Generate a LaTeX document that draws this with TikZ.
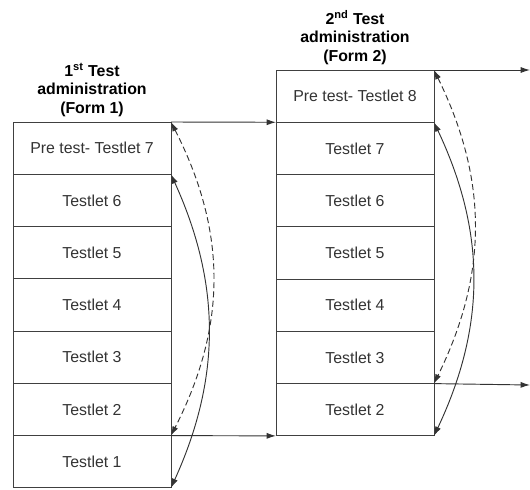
\documentclass[tikz,border=0pt]{standalone}
\usepackage{fontspec}
\setmainfont{Liberation Sans}
\usetikzlibrary{positioning, arrows.meta}

\begin{document}
\begin{tikzpicture}[x=0.75pt, y=-0.75pt,
        testlet/.style={draw=black!75, line width=0.75pt, minimum width=118.5pt, minimum height=39.2pt, inner sep=0pt, outer sep=0pt, text=black!80, font=\fontsize{11.9}{13.9}\selectfont},
        title/.style={align=center, inner sep=0pt, font=\bfseries\fontsize{11.9}{13.9}\selectfont},
        link/.style={draw=black!80, line width=0.7pt, -{Latex[length=7pt,width=4.5pt]}},
        swap/.style={draw=black!80, line width=0.7pt, {Latex[length=7pt,width=4.5pt]}-{Latex[length=7pt,width=4.5pt]}}]

        % fixing the size of the picture
        \useasboundingbox (0,0) rectangle (530,489);

        % first administration: the pre test on top, then testlets 6 down to 1
        \node[testlet, anchor=north west] (a7) at (13,122) {Pre test- Testlet 7};
        \foreach \i [remember=\i as \last (initially 7)] in {6,5,...,1}
                \node[testlet, below=0pt of a\last] (a\i) {Testlet \i};
        \node[title, above=4pt of a7] (ta) {1\textsuperscript{st} Test\\administration\\(Form 1)};

        % second administration: the pre test on top, then testlets 7 down to 2
        \node[testlet, anchor=north west] (b8) at (276,70) {Pre test- Testlet 8};
        \foreach \i [remember=\i as \last (initially 8)] in {7,6,...,2}
                \node[testlet, below=0pt of b\last] (b\i) {Testlet \i};
        \node[title, above=4pt of b8] (tb) {2\textsuperscript{nd} Test\\administration\\(Form 2)};

        % free ends of the outgoing arrows
        \coordinate (outtop) at (530,70);
        \coordinate (outmid) at (530,385);

        % straight links between the forms
        \draw[link] (a7.north east) -- (b7.north west);
        \draw[link] (a2.south east) -- (b2.south west);
        \draw[link] (b8.north east) -- (outtop);
        \draw[link] (b3.south east) -- (outmid);

        % curved links along each form
        \draw[swap, dash pattern=on 4.5pt off 2.5pt] (a7.north east) .. controls +(56,110) and +(56,-110) .. (a2.south east);
        \draw[swap] (a6.north east) .. controls +(50,110) and +(50,-110) .. (a1.south east);
        \draw[swap, dash pattern=on 4.5pt off 2.5pt] (b8.north east) .. controls +(54,110) and +(54,-110) .. (b3.south east);
        \draw[swap] (b7.north east) .. controls +(52,110) and +(52,-110) .. (b2.south east);

\end{tikzpicture}
\end{document}
